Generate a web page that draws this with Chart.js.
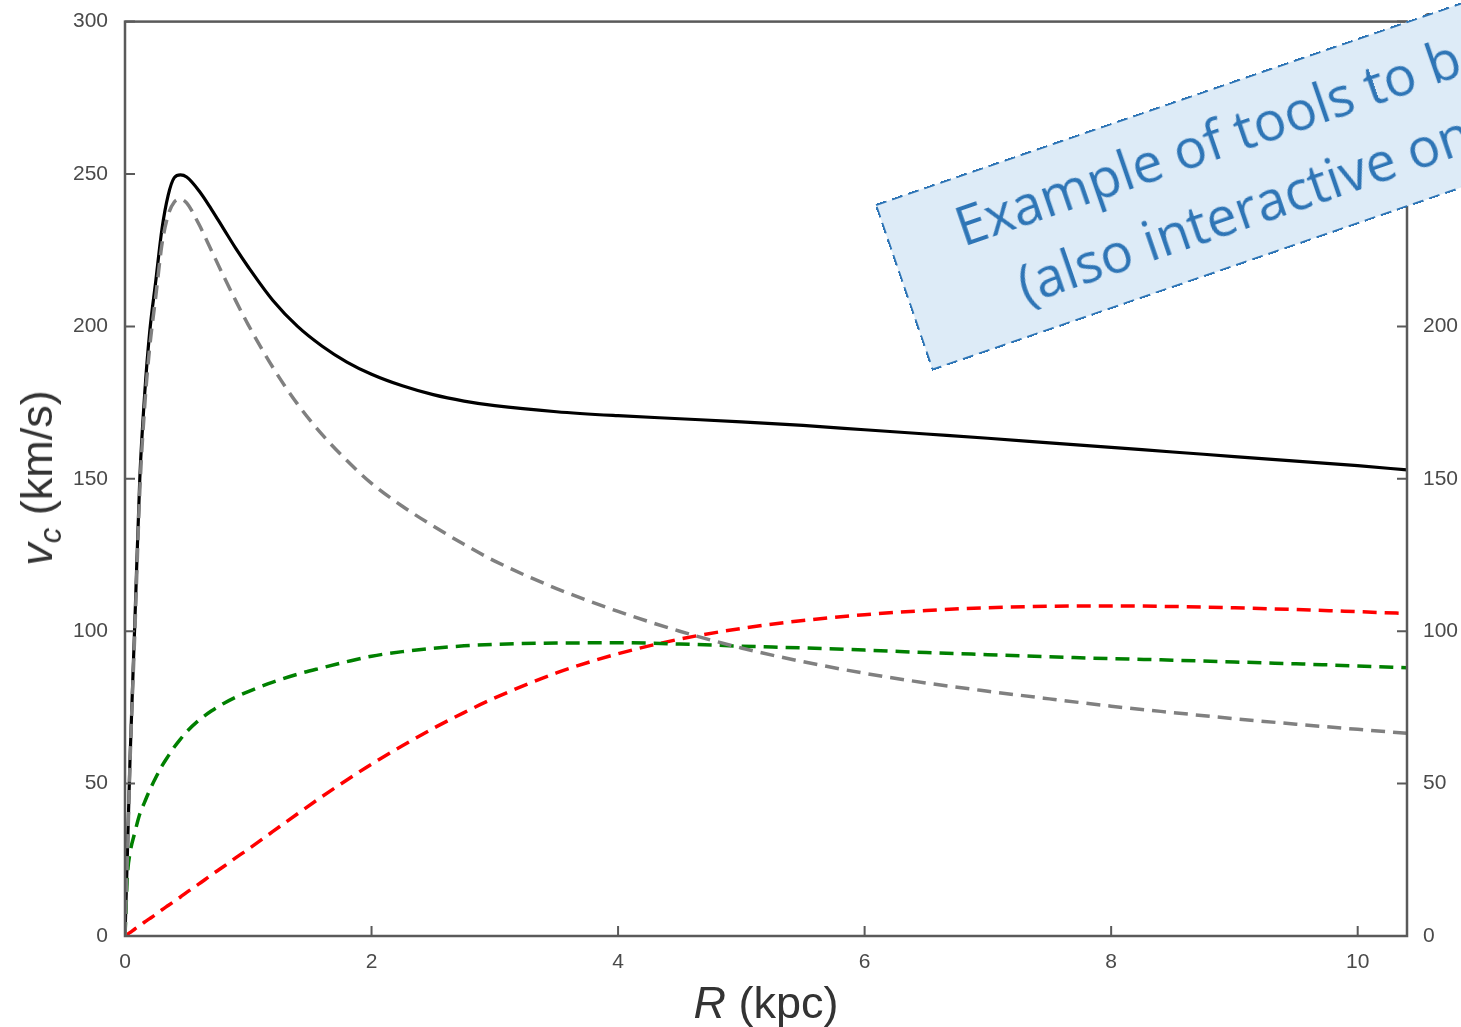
<!DOCTYPE html>
<html>
<head>
<meta charset="utf-8">
<script src="https://cdn.jsdelivr.net/npm/chart.js@4.4.1/dist/chart.umd.min.js"></script>
<style>
  html, body { margin: 0; padding: 0; background: #fff; overflow: hidden; }
  #wrap { position: relative; width: 1461px; height: 1027px; }
  #chart { position: absolute; left: 0; top: 0; }
  .axis-title { position: absolute; font-family: "Liberation Sans", Arial, sans-serif; font-size: 45px; color: #333; white-space: nowrap; transform: translate(-50%, -50%); }
  #ytitle { left: 40px; top: 478px; transform: translate(-50%, -50%) rotate(-90deg); }
  #xtitle { left: 766px; top: 1003px; }
  #ytitle sub { font-size: 31px; vertical-align: -9px; }
  #note { position: absolute; left: 0; top: 0; pointer-events: none; }
</style>
</head>
<body>
<div id="wrap">
  <canvas id="chart" width="1461" height="1027"></canvas>
  <div class="axis-title" id="ytitle"><i>v</i><sub><i>c</i></sub> (km/s)</div>
  <div class="axis-title" id="xtitle"><i>R</i> (kpc)</div>
  <svg id="note" width="1461" height="1027">
    <g transform="translate(876,205) rotate(-19)">
      <rect x="0" y="0" width="980" height="174" fill="#DDEBF7" stroke="#2E75B6" stroke-width="2" stroke-dasharray="11 6"/>
      <text x="69" y="68" font-family="Open Sans" font-size="54" fill="#2E75B6">Example of tools to be used</text>
      <text x="109" y="143" font-family="Open Sans" font-size="54" fill="#2E75B6">(also interactive online)</text>
    </g>
  </svg>
</div>
<script>
// radius samples (kpc), shared by all curves
const radius = [0, 0.02, 0.04, 0.08, 0.12, 0.16, 0.2, 0.25, 0.3, 0.35, 0.4, 0.45, 0.5, 0.6, 0.7, 0.8, 0.9, 1.0,
  1.2, 1.4, 1.6, 1.8, 2.0, 2.25, 2.5, 2.75, 3.0, 3.5, 4.0, 4.5, 5.0, 5.5, 6.0, 6.5, 7.0, 7.5, 8.0, 8.5, 9.0, 9.5, 10.0, 10.4];

// circular velocity (km/s)
const vTotal = [0, 28, 57, 103, 150, 178, 198, 215, 232, 243, 248.8, 249.7, 249, 244.5, 238.5, 232, 225.5, 219.5,
  208.5, 200, 193.5, 188.3, 184.3, 180.5, 177.6, 175.5, 174, 172, 170.7, 169.7, 168.7, 167.5, 166.1, 164.7, 163.3, 161.8, 160.3, 158.8, 157.3, 155.8, 154.3, 152.9];
const vBulge = [0, 27, 56, 100, 146, 174, 193, 210, 227, 236.5, 240.8, 241.7, 240.5, 233.5, 225, 216.5, 208.3, 200.5,
  186.5, 174.5, 164.5, 156, 148.5, 141, 134.5, 128.5, 123, 114, 106.5, 100, 94.5, 90, 86.2, 83, 80.3, 77.8, 75.4, 73.3, 71.3, 69.5, 67.8, 66.5];
const vDisk = [0, 0.6, 1.1, 2.3, 3.4, 4.6, 5.7, 7.1, 8.6, 10, 11.4, 12.8, 14.3, 17.1, 20, 22.8, 25.7, 28.5,
  34.3, 40.1, 45.8, 51.2, 56.4, 62.4, 68.1, 73.3, 78.1, 86.3, 92.6, 97.4, 100.9, 103.5, 105.4, 106.8, 107.7, 108.2, 108.3, 108.1, 107.7, 107.1, 106.4, 105.8];
const vHalo = [0, 20, 27, 34, 40, 44, 47.8, 52, 55.8, 59, 62, 64.6, 67, 70.8, 73.8, 76.3, 78.4, 80.2,
  83.3, 85.9, 88, 90, 91.8, 93.3, 94.4, 95.2, 95.7, 96.1, 96.2, 95.8, 95.1, 94.5, 93.8, 93, 92.3, 91.6, 91, 90.5, 89.9, 89.3, 88.6, 88];

const xTicks = [0, 2, 4, 6, 8, 10];
const yTicks = [0, 50, 100, 150, 200, 250, 300];

const FRAME = '#5a5a5a';
const TICK_FONT = { family: 'Liberation Sans, Arial, sans-serif', size: 21 };
const TICK_COLOR = '#4a4a4a';

const toPoints = values => radius.map((r, i) => ({ x: r, y: values[i] }));

function curve(values, color, dashed) {
  return {
    data: toPoints(values),
    borderColor: color,
    borderWidth: dashed ? 3.5 : 3.2,
    borderDash: dashed ? [14, 8] : [],
    pointRadius: 0,
    cubicInterpolationMode: 'monotone',
    fill: false,
    yAxisID: 'y'
  };
}

// frame around the plot and inward tick marks
const frameAndTicks = {
  id: 'frameAndTicks',
  afterDraw(chart) {
    const { ctx, chartArea: a, scales } = chart;
    ctx.save();
    ctx.strokeStyle = FRAME;
    ctx.lineWidth = 2.5;
    ctx.strokeRect(a.left, a.top, a.right - a.left, a.bottom - a.top);
    ctx.lineWidth = 2;
    ctx.beginPath();
    scales.x.ticks.forEach(t => {
      const px = scales.x.getPixelForValue(t.value);
      ctx.moveTo(px, a.bottom);
      ctx.lineTo(px, a.bottom - 10);
    });
    scales.y.ticks.forEach(t => {
      const py = scales.y.getPixelForValue(t.value);
      ctx.moveTo(a.left, py);
      ctx.lineTo(a.left + 10, py);
    });
    scales.y2.ticks.forEach(t => {
      const py = scales.y2.getPixelForValue(t.value);
      ctx.moveTo(a.right, py);
      ctx.lineTo(a.right - 10, py);
    });
    ctx.stroke();
    ctx.restore();
  }
};

new Chart(document.getElementById('chart'), {
  type: 'line',
  data: {
    datasets: [
      curve(vBulge, '#808080', true),
      curve(vHalo, '#008000', true),
      curve(vDisk, '#ff0000', true),
      curve(vTotal, '#000000', false)
    ]
  },
  options: {
    responsive: false,
    animation: false,
    layout: { padding: { top: 10, left: 0, right: 0, bottom: 0 } },
    plugins: { legend: { display: false }, tooltip: { enabled: false } },
    scales: {
      x: {
        type: 'linear',
        min: 0,
        max: 10.4,
        afterBuildTicks: s => { s.ticks = xTicks.map(v => ({ value: v })); },
        afterFit: s => { s.height = 91; },
        grid: { display: false },
        border: { display: false },
        ticks: { color: TICK_COLOR, font: TICK_FONT, padding: 6, maxRotation: 0 }
      },
      y: {
        min: 0,
        max: 300,
        afterBuildTicks: s => { s.ticks = yTicks.map(v => ({ value: v })); },
        afterFit: s => { s.width = 125; },
        grid: { display: false },
        border: { display: false },
        ticks: { color: TICK_COLOR, font: TICK_FONT, padding: 9 }
      },
      y2: {
        position: 'right',
        min: 0,
        max: 300,
        afterBuildTicks: s => { s.ticks = yTicks.map(v => ({ value: v })); },
        afterFit: s => { s.width = 54; },
        grid: { display: false },
        border: { display: false },
        ticks: { color: TICK_COLOR, font: TICK_FONT, padding: 8 }
      }
    }
  },
  plugins: [frameAndTicks]
});
</script>
</body>
</html>
